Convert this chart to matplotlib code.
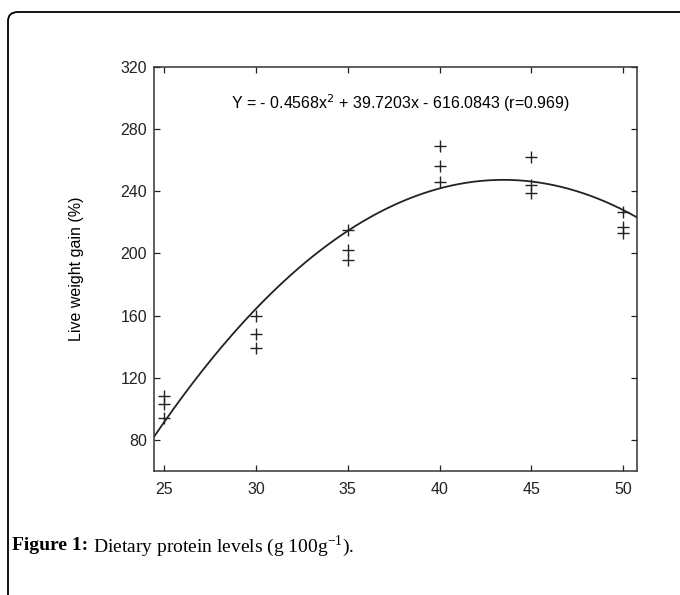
import numpy as np
import matplotlib.pyplot as plt
from matplotlib.patches import FancyBboxPatch

# protein levels (g 100g-1) and live weight gain (%)
protein = [25, 25, 25, 30, 30, 30, 35, 35, 35, 40, 40, 40, 45, 45, 45, 50, 50, 50]
gain = [108, 103, 94, 160, 148, 139, 215, 202, 196, 269, 256, 246, 262, 244, 239, 227, 217, 213]

# fitted quadratic (highest power first)
coef = [-0.4568, 39.7203, -616.0843]

x_ticks = [25, 30, 35, 40, 45, 50]
y_ticks = [80, 120, 160, 200, 240, 280, 320]

fig = plt.figure(figsize=(6.8, 5.95), dpi=100)
plt.rcParams['font.family'] = ['Liberation Sans', 'DejaVu Sans']

# outer frame, only top and left edges visible
frame = FancyBboxPatch((8 / 680, -0.2), 1.2, (595 - 12) / 595 + 0.2,
                       boxstyle='round,pad=0,rounding_size=0.015',
                       transform=fig.transFigure, fill=False,
                       edgecolor='black', linewidth=1.3)
fig.patches.append(frame)

ax = fig.add_axes([154 / 680, 1 - 471 / 595, (637 - 154) / 680, (471 - 67) / 595])

xs = np.linspace(24.45, 50.9, 200)
ax.plot(xs, np.polyval(coef, xs), color='#222222', linewidth=1.3)
ax.scatter(protein, gain, marker='+', s=75, color='#222222', linewidths=1.0)

ax.set_xlim(24.45, 50.75)
ax.set_ylim(60, 320)
ax.set_xticks(x_ticks)
ax.set_yticks(y_ticks)
ax.tick_params(direction='in', top=True, right=True, length=4, width=0.9,
               labelsize=11.5, colors='#222222')
ax.tick_params(axis='x', pad=8)
ax.tick_params(axis='y', pad=5)
for sp in ax.spines.values():
    sp.set_linewidth(1.1)
    sp.set_color('#333333')

ax.set_ylabel('Live weight gain (%)', fontsize=11.5, labelpad=26)

ax.text(0.51, 0.91, r'Y = - 0.4568x$^2$ + 39.7203x - 616.0843 (r=0.969)',
        transform=ax.transAxes, ha='center', va='center', fontsize=11.5)

# caption: bold label followed by plain text
cap_y = 1 - 546 / 595
t1 = fig.text(12 / 680, cap_y, 'Figure 1:', fontsize=14, weight='bold',
              va='center', ha='left', family='Liberation Serif')
fig.canvas.draw()
bb = t1.get_window_extent()
fig.text(bb.x1 / 680 + 5 / 680, cap_y,
         'Dietary protein levels (g 100g$^{\\mathregular{-1}}$).',
         fontsize=14, va='center', ha='left', family='Liberation Serif')

fig.savefig('out.png', dpi=100)
